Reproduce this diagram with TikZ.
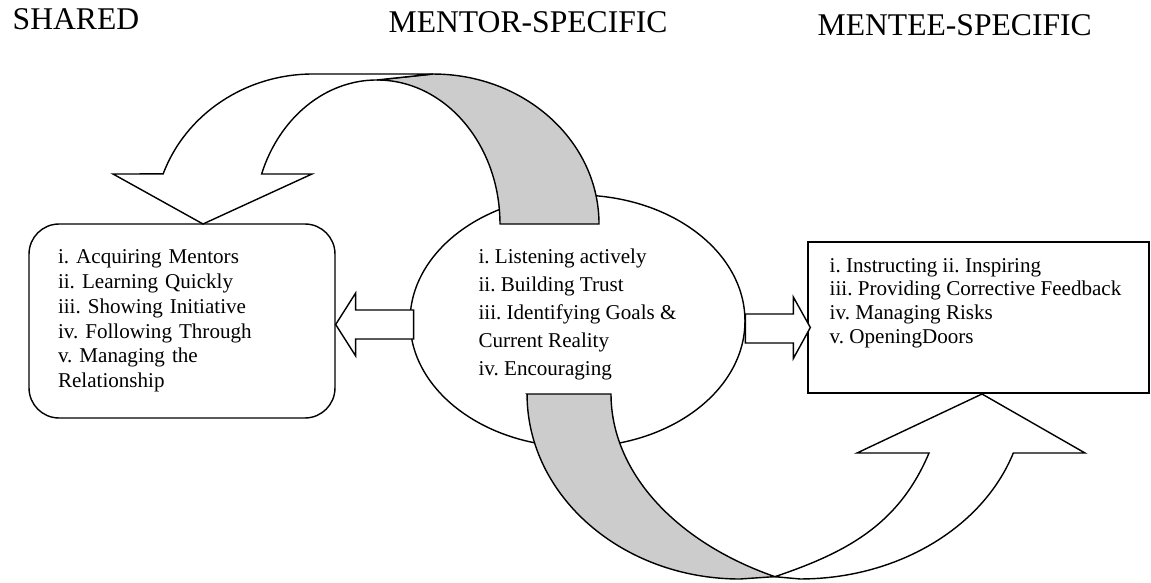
\documentclass[tikz,border=0pt]{standalone}
\usepackage{fontspec}
\setmainfont{Liberation Serif}
\usepackage{tikz}
\usetikzlibrary{shapes}
\definecolor{shade}{HTML}{CCCCCC}
\frenchspacing

\begin{document}
\begin{tikzpicture}[x=0.02cm, y=0.02cm, line width=0.8pt, font=\fontsize{12}{14.1}\selectfont]
  \tikzstyle{header}=[anchor=base west, inner sep=0pt, font=\fontsize{18}{21}\selectfont]
  \tikzstyle{sharedbox}=[draw, rounded corners=0.6cm, text width=4.96cm, inner xsep=0.58cm, minimum height=3.88cm, align=left]
  \tikzstyle{mentorball}=[draw, ellipse, minimum width=6.7cm, minimum height=5.04cm, inner sep=0pt, align=left, font=\fontsize{12}{15.9}\selectfont, text depth=10.4pt]
  \tikzstyle{menteebox}=[draw, minimum width=6.82cm, minimum height=3.02cm, inner sep=0pt]
  \tikzstyle{listtext}=[anchor=north west, inner sep=0pt, align=left, font=\fontsize{12}{13.5}\selectfont]
  \tikzstyle{blockarrow}=[draw, fill=white]
  \tikzstyle{backband}=[draw, fill=shade]
  \tikzstyle{frontband}=[draw, fill=white]
  \useasboundingbox (0,0) rectangle (1151,582);

  % headings
  \node[header] (sharedhead) at (12,552) {SHARED};
  \node[header] (mentorhead) at (388,549) {MENTOR-SPECIFIC};
  \node[header] (menteehead) at (817,546) {MENTEE-SPECIFIC};

  % the three groups
  \node[mentorball] (mentor) at (577.5,261) {i. Listening actively\\ii. Building Trust\\iii. Identifying Goals \&\\Current Reality\\iv. Encouraging};
  \node[sharedbox] (shared) at (182,261) {i. Acquiring Mentors\\ii. Learning Quickly\\iii. Showing Initiative\\iv. Following Through\\v. Managing the\\Relationship};
  \node[menteebox] (mentee) at (978.5,264.5) {};
  \node[listtext] (menteelist) at (829,324.4) {i. Instructing ii. Inspiring\\iii. Providing Corrective Feedback\\iv. Managing Risks\\v. OpeningDoors};

  % curved arrow over the top
  \path[backband] (500,358) -- (599,358) arc[start angle=0, end angle=90, x radius=3.32cm, y radius=3cm]
    -- (377,502) arc[start angle=90, end angle=0, x radius=2.46cm, y radius=2.88cm] -- cycle;
  \path[frontband] (433,508) -- (313,508) arc[start angle=90, end angle=160.5, x radius=3.18cm, y radius=3cm]
    -- (113,408) -- (203,358) -- (312,408) -- (261.6,408)
    arc[start angle=159.7, end angle=90, x radius=2.46cm, y radius=2.88cm] -- cycle;

  % curved arrow underneath
  \path[backband] (527,188) -- (611,188) arc[start angle=180, end angle=243, x radius=6cm, y radius=4.1cm]
    -- (740,3) arc[start angle=270, end angle=180, x radius=4.26cm, y radius=3.7cm] -- cycle;
  \path[frontband] (774.8,5.3) .. controls (848,30) and (899,58) .. (929,129)
    -- (857,129) -- (982,188) -- (1085,129) -- (1013.3,129)
    arc[start angle=341.4, end angle=270, x radius=4.5cm, y radius=3.7cm] -- cycle;

  % straight arrows out of the mentor group
  \path[blockarrow] ([yshift=-0.07cm]shared.east) -- ++(20,31.5) -- ++(0,-17) -- ++(58,0)
    -- ++(0,-29) -- ++(-58,0) -- ++(0,-17) -- cycle;
  \path[blockarrow] ([xshift=0.06cm,yshift=-0.2cm]mentee.west) -- ++(-17,30.5) -- ++(0,-17) -- ++(-48,0)
    -- ++(0,-29) -- ++(48,0) -- ++(0,-15.5) -- cycle;
\end{tikzpicture}
\end{document}
